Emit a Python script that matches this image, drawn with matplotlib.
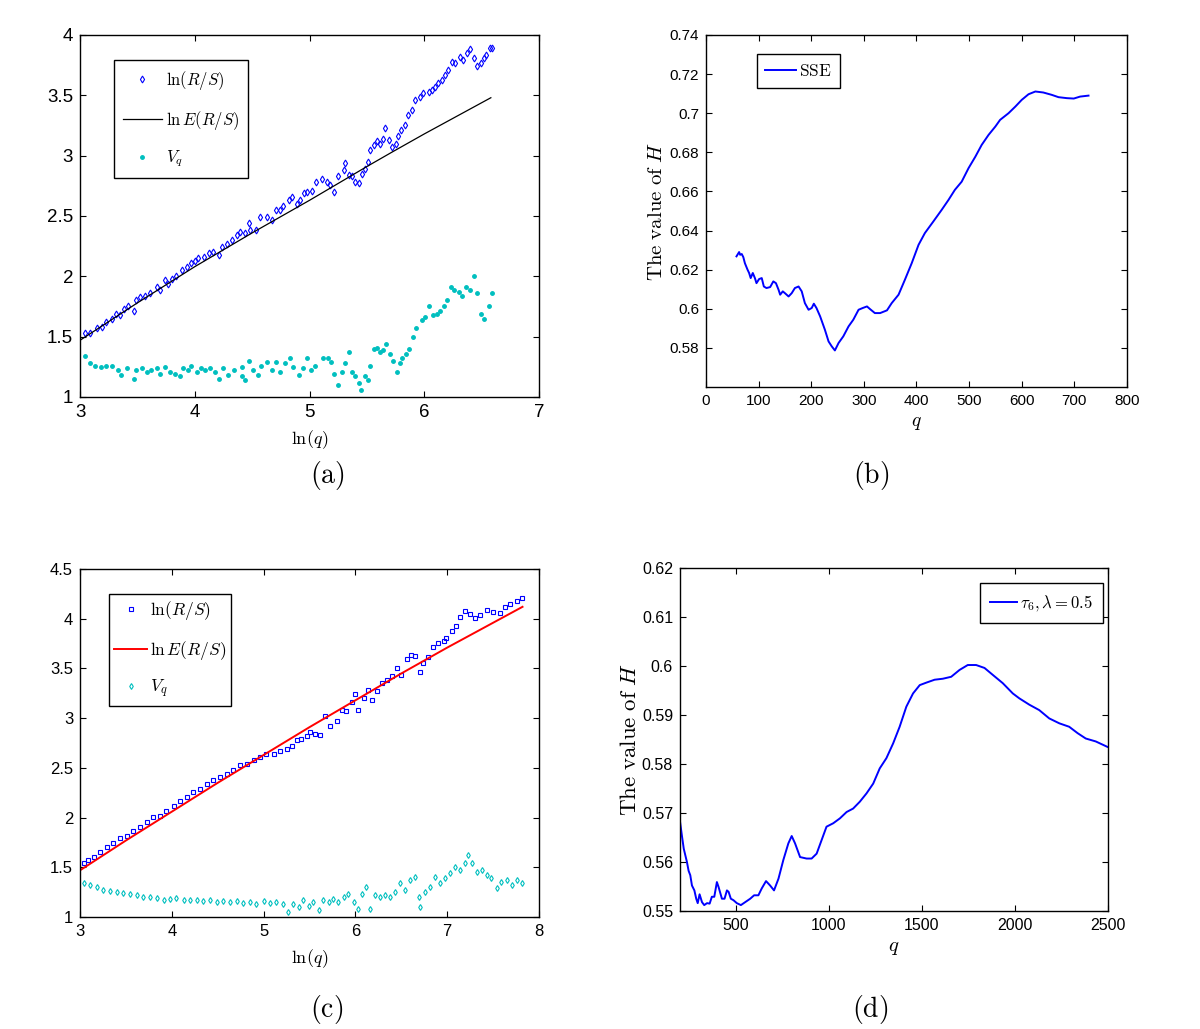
import matplotlib
matplotlib.use('Agg')
from matplotlib import pyplot as plt
from matplotlib.ticker import FuncFormatter

# ---------------- panel (a) ----------------
a_rs_x = [3.04, 3.09, 3.15, 3.19, 3.23, 3.28, 3.31, 3.35, 3.38, 3.42, 3.47, 3.49, 3.52, 3.57, 3.61,
          3.67, 3.70, 3.74, 3.77, 3.80, 3.84, 3.89, 3.93, 3.97, 4.00, 4.03, 4.08, 4.12, 4.16, 4.21,
          4.24, 4.28, 4.32, 4.37, 4.39, 4.44, 4.47, 4.48, 4.53, 4.57, 4.63, 4.67, 4.71, 4.74, 4.77,
          4.82, 4.85, 4.89, 4.92, 4.95, 4.98, 5.02, 5.06, 5.11, 5.15, 5.18, 5.21, 5.25, 5.30, 5.31,
          5.34, 5.37, 5.40, 5.43, 5.46, 5.48, 5.51, 5.53, 5.56, 5.59, 5.61, 5.64, 5.66, 5.69, 5.72,
          5.75, 5.77, 5.80, 5.83, 5.86, 5.89, 5.92, 5.96, 5.99, 6.04, 6.07, 6.09, 6.12, 6.15, 6.18,
          6.21, 6.24, 6.27, 6.31, 6.34, 6.37, 6.40, 6.43, 6.46, 6.49, 6.52, 6.54, 6.57, 6.59]
a_rs_y = [1.53, 1.53, 1.57, 1.58, 1.62, 1.65, 1.69, 1.68, 1.73, 1.75, 1.71, 1.80, 1.83, 1.84, 1.86,
          1.91, 1.89, 1.97, 1.94, 1.98, 2.00, 2.05, 2.08, 2.11, 2.13, 2.15, 2.16, 2.19, 2.20, 2.18,
          2.24, 2.27, 2.30, 2.34, 2.37, 2.36, 2.44, 2.38, 2.38, 2.49, 2.49, 2.47, 2.55, 2.55, 2.58,
          2.63, 2.66, 2.60, 2.63, 2.69, 2.70, 2.71, 2.78, 2.81, 2.78, 2.76, 2.70, 2.83, 2.88, 2.94,
          2.84, 2.83, 2.78, 2.77, 2.85, 2.89, 2.95, 3.05, 3.09, 3.12, 3.10, 3.14, 3.23, 3.13, 3.07,
          3.10, 3.16, 3.21, 3.25, 3.34, 3.38, 3.46, 3.49, 3.52, 3.53, 3.54, 3.57, 3.60, 3.63, 3.67,
          3.71, 3.78, 3.77, 3.82, 3.79, 3.85, 3.88, 3.81, 3.74, 3.77, 3.81, 3.83, 3.89, 3.89]
a_ers_x = [3.0, 3.5, 4.0, 4.5, 5.0, 5.5, 5.72, 6.0, 6.58]
a_ers_y = [1.47, 1.78, 2.08, 2.36, 2.63, 2.91, 3.03, 3.18, 3.48]
a_vq_x = [3.04, 3.09, 3.13, 3.18, 3.23, 3.28, 3.33, 3.36, 3.41, 3.47, 3.49, 3.54, 3.58, 3.62, 3.67,
          3.70, 3.74, 3.78, 3.83, 3.87, 3.90, 3.94, 3.97, 4.02, 4.05, 4.09, 4.13, 4.18, 4.21, 4.25,
          4.29, 4.34, 4.41, 4.41, 4.44, 4.47, 4.51, 4.55, 4.58, 4.63, 4.67, 4.71, 4.74, 4.79, 4.83,
          4.86, 4.91, 4.94, 4.98, 5.01, 5.05, 5.12, 5.16, 5.19, 5.21, 5.25, 5.28, 5.31, 5.34, 5.37,
          5.40, 5.43, 5.45, 5.48, 5.51, 5.53, 5.56, 5.59, 5.61, 5.64, 5.67, 5.70, 5.73, 5.76, 5.79,
          5.81, 5.84, 5.87, 5.90, 5.93, 5.98, 6.01, 6.04, 6.08, 6.11, 6.14, 6.17, 6.20, 6.23, 6.26,
          6.30, 6.33, 6.36, 6.40, 6.43, 6.46, 6.49, 6.52, 6.56, 6.59]
a_vq_y = [1.34, 1.28, 1.26, 1.25, 1.26, 1.26, 1.22, 1.18, 1.24, 1.15, 1.22, 1.24, 1.21, 1.22, 1.24,
          1.19, 1.25, 1.21, 1.19, 1.17, 1.24, 1.22, 1.26, 1.21, 1.24, 1.22, 1.24, 1.21, 1.15, 1.24,
          1.18, 1.22, 1.17, 1.25, 1.14, 1.30, 1.22, 1.18, 1.26, 1.29, 1.22, 1.29, 1.21, 1.28, 1.32,
          1.25, 1.18, 1.24, 1.32, 1.22, 1.26, 1.32, 1.32, 1.29, 1.19, 1.10, 1.21, 1.28, 1.37, 1.21,
          1.17, 1.12, 1.06, 1.17, 1.14, 1.26, 1.40, 1.41, 1.37, 1.39, 1.44, 1.36, 1.30, 1.21, 1.28,
          1.32, 1.36, 1.40, 1.50, 1.57, 1.64, 1.66, 1.75, 1.68, 1.69, 1.71, 1.75, 1.80, 1.91, 1.89,
          1.87, 1.84, 1.91, 1.89, 2.00, 1.86, 1.69, 1.65, 1.75, 1.86]

# ---------------- panel (b) ----------------
b_q = [58, 63, 65, 68, 71, 74, 79, 82, 85, 89, 93, 96, 101, 106, 110, 115, 122, 128, 133, 138,
       141, 146, 150, 157, 163, 169, 176, 182, 188, 195, 201, 205, 210, 217, 226, 233, 239, 245,
       252, 261, 271, 280, 290, 298, 306, 312, 321, 331, 344, 353, 366, 378, 391, 404, 416, 432,
       448, 461, 473, 486, 499, 512, 524, 537, 550, 559, 575, 588, 600, 613, 626, 641, 657, 670,
       686, 699, 711, 727]
b_h = [0.6268, 0.6290, 0.6276, 0.6280, 0.6264, 0.6233, 0.6200, 0.6183, 0.6157, 0.6183, 0.6157,
       0.6131, 0.6152, 0.6157, 0.6114, 0.6106, 0.6111, 0.6140, 0.6131, 0.6097, 0.6072, 0.6089,
       0.6080, 0.6063, 0.6080, 0.6106, 0.6114, 0.6089, 0.6029, 0.5995, 0.6004, 0.6026, 0.6004,
       0.5961, 0.5893, 0.5833, 0.5808, 0.5787, 0.5825, 0.5859, 0.5910, 0.5944, 0.5995, 0.6004,
       0.6012, 0.5998, 0.5978, 0.5978, 0.5992, 0.6029, 0.6072, 0.6148, 0.6233, 0.6327, 0.6387,
       0.6446, 0.6506, 0.6557, 0.6608, 0.6650, 0.6719, 0.6778, 0.6838, 0.6889, 0.6932, 0.6966,
       0.7000, 0.7034, 0.7068, 0.7097, 0.7111, 0.7106, 0.7094, 0.7082, 0.7077, 0.7075, 0.7085,
       0.7090]

# ---------------- panel (c) ----------------
c_rs_x = [3.04, 3.09, 3.15, 3.22, 3.29, 3.36, 3.44, 3.51, 3.58, 3.65, 3.73, 3.80, 3.87, 3.94, 4.02,
          4.09, 4.16, 4.23, 4.31, 4.38, 4.45, 4.53, 4.60, 4.67, 4.74, 4.82, 4.89, 4.96, 5.03, 5.11,
          5.18, 5.25, 5.31, 5.36, 5.41, 5.47, 5.51, 5.56, 5.61, 5.67, 5.72, 5.80, 5.85, 5.90, 5.96,
          5.99, 6.03, 6.09, 6.14, 6.18, 6.23, 6.29, 6.34, 6.40, 6.45, 6.50, 6.56, 6.61, 6.65, 6.70,
          6.74, 6.79, 6.85, 6.90, 6.96, 6.99, 7.05, 7.10, 7.14, 7.19, 7.25, 7.30, 7.36, 7.43, 7.50,
          7.57, 7.63, 7.68, 7.76, 7.81]
c_rs_y = [1.54, 1.57, 1.60, 1.65, 1.70, 1.74, 1.79, 1.82, 1.87, 1.91, 1.96, 2.01, 2.02, 2.07, 2.12,
          2.17, 2.21, 2.26, 2.29, 2.34, 2.38, 2.41, 2.44, 2.48, 2.53, 2.54, 2.58, 2.61, 2.64, 2.64,
          2.67, 2.69, 2.72, 2.78, 2.79, 2.82, 2.86, 2.84, 2.83, 3.02, 2.92, 2.97, 3.08, 3.07, 3.16,
          3.24, 3.08, 3.20, 3.28, 3.18, 3.27, 3.35, 3.38, 3.42, 3.50, 3.43, 3.60, 3.64, 3.63, 3.46,
          3.56, 3.62, 3.72, 3.76, 3.78, 3.81, 3.88, 3.93, 4.02, 4.08, 4.05, 4.01, 4.04, 4.09, 4.07,
          4.06, 4.12, 4.15, 4.18, 4.21]
c_ers_x = [3.0, 3.5, 4.0, 4.5, 5.0, 5.5, 6.0, 6.5, 7.0, 7.5, 7.82]
c_ers_y = [1.47, 1.77, 2.06, 2.35, 2.63, 2.91, 3.18, 3.45, 3.71, 3.96, 4.12]
c_vq_x = [3.04, 3.11, 3.18, 3.25, 3.33, 3.40, 3.47, 3.54, 3.62, 3.69, 3.76, 3.84, 3.91, 3.98, 4.05,
          4.13, 4.20, 4.27, 4.34, 4.42, 4.49, 4.56, 4.63, 4.71, 4.78, 4.85, 4.92, 5.00, 5.07, 5.14,
          5.21, 5.27, 5.32, 5.38, 5.43, 5.49, 5.54, 5.60, 5.65, 5.71, 5.76, 5.81, 5.87, 5.92, 5.98,
          6.03, 6.07, 6.12, 6.16, 6.21, 6.27, 6.32, 6.38, 6.43, 6.49, 6.54, 6.59, 6.65, 6.69, 6.70,
          6.76, 6.81, 6.87, 6.92, 6.98, 7.03, 7.08, 7.14, 7.19, 7.23, 7.27, 7.32, 7.38, 7.43, 7.48,
          7.54, 7.59, 7.65, 7.70, 7.76, 7.81]
c_vq_y = [1.34, 1.32, 1.30, 1.27, 1.26, 1.25, 1.24, 1.23, 1.22, 1.20, 1.20, 1.19, 1.17, 1.18, 1.19,
          1.17, 1.17, 1.17, 1.16, 1.17, 1.15, 1.16, 1.15, 1.16, 1.14, 1.15, 1.13, 1.16, 1.14, 1.15,
          1.13, 1.05, 1.13, 1.10, 1.17, 1.11, 1.15, 1.07, 1.17, 1.15, 1.18, 1.15, 1.20, 1.23, 1.15,
          1.08, 1.23, 1.30, 1.08, 1.22, 1.20, 1.22, 1.20, 1.25, 1.34, 1.27, 1.37, 1.40, 1.20, 1.10,
          1.25, 1.30, 1.40, 1.34, 1.39, 1.44, 1.50, 1.47, 1.54, 1.62, 1.54, 1.45, 1.47, 1.42, 1.39,
          1.29, 1.35, 1.37, 1.32, 1.37, 1.34]

# ---------------- panel (d) ----------------
d_q = [200, 211, 220, 237, 246, 255, 264, 277, 287, 295, 305, 318, 330, 345, 359, 371, 384, 398,
       407, 425, 439, 452, 461, 473, 487, 505, 527, 550, 577, 598, 621, 639, 662, 684, 705, 729,
       755, 782, 800, 818, 845, 880, 907, 934, 961, 987, 1023, 1059, 1095, 1130, 1166, 1202, 1238,
       1273, 1309, 1345, 1380, 1416, 1452, 1488, 1523, 1568, 1612, 1657, 1702, 1746, 1791, 1836,
       1880, 1934, 1988, 2023, 2077, 2130, 2184, 2238, 2291, 2336, 2380, 2434, 2496]
d_h = [0.5682, 0.5651, 0.5627, 0.5600, 0.5582, 0.5573, 0.5552, 0.5542, 0.5525, 0.5516, 0.5534,
       0.5518, 0.5512, 0.5516, 0.5515, 0.5529, 0.5529, 0.5559, 0.5549, 0.5525, 0.5525, 0.5542,
       0.5539, 0.5525, 0.5522, 0.5516, 0.5512, 0.5518, 0.5525, 0.5532, 0.5532, 0.5546, 0.5561,
       0.5552, 0.5542, 0.5566, 0.5604, 0.5638, 0.5653, 0.5638, 0.5610, 0.5607, 0.5607, 0.5617,
       0.5645, 0.5672, 0.5679, 0.5689, 0.5702, 0.5709, 0.5723, 0.5740, 0.5760, 0.5791, 0.5812,
       0.5842, 0.5876, 0.5917, 0.5944, 0.5961, 0.5966, 0.5972, 0.5974, 0.5978, 0.5992, 0.6002,
       0.6002, 0.5996, 0.5982, 0.5965, 0.5944, 0.5934, 0.5921, 0.5910, 0.5893, 0.5883, 0.5876,
       0.5863, 0.5852, 0.5846, 0.5835]

BLUE = '#0000ff'
CYAN = '#00bfbf'
TICK_FONT = ['Liberation Sans', 'DejaVu Sans']

plt.rcParams['mathtext.fontset'] = 'cm'
plt.rcParams['axes.linewidth'] = 1.0


def style_axes(ax, tick_size):
    # matlab look: inward ticks on all four sides, plain number labels
    ax.tick_params(direction='in', top=True, right=True, length=4, width=0.8,
                   labelsize=tick_size, pad=5)
    fmt = FuncFormatter(lambda v, p: '%g' % round(v, 4))
    ax.xaxis.set_major_formatter(fmt)
    ax.yaxis.set_major_formatter(fmt)
    for lab in ax.get_xticklabels() + ax.get_yticklabels():
        lab.set_family(TICK_FONT)


def boxed_legend(ax, **kw):
    leg = ax.legend(frameon=True, fancybox=False, edgecolor='black', framealpha=1, **kw)
    leg.get_frame().set_linewidth(1.0)
    return leg


fig = plt.figure(figsize=(12, 10.29), dpi=100)

# (a)
ax = fig.add_axes([0.0667, 0.6142, 0.3825, 0.3518])
ax.plot(a_rs_x, a_rs_y, linestyle='none', marker='d', ms=3.5, mfc='none', mec=BLUE, mew=0.8,
        label=r'$\ln(R/S)$')
ax.plot(a_ers_x, a_ers_y, color='black', lw=0.9, label=r'$\ln E(R/S)$')
ax.plot(a_vq_x, a_vq_y, linestyle='none', marker='.', ms=5, color=CYAN, label=r'$V_q$')
ax.set_xlim(3, 7)
ax.set_ylim(1, 4)
ax.set_xticks([3, 4, 5, 6, 7])
ax.set_yticks([1, 1.5, 2, 2.5, 3, 3.5, 4])
style_axes(ax, 13.5)
ax.set_xlabel(r'$\ln(q)$', fontsize=13)
ax.xaxis.set_label_coords(0.5, -0.086)
boxed_legend(ax, loc='upper left', bbox_to_anchor=(0.074, 0.931), fontsize=12,
             handlelength=2.3, handletextpad=0.25, labelspacing=1.0, borderpad=0.55,
             borderaxespad=0, markerscale=1.0)

# (b)
ax = fig.add_axes([0.5883, 0.6239, 0.3508, 0.3421])
ax.plot(b_q, b_h, color=BLUE, lw=1.4, label=r'$\mathrm{SSE}$')
ax.set_xlim(0, 800)
ax.set_ylim(0.56, 0.74)
ax.set_xticks(range(0, 801, 100))
ax.set_yticks([0.58, 0.60, 0.62, 0.64, 0.66, 0.68, 0.70, 0.72, 0.74])
style_axes(ax, 11)
ax.set_xlabel(r'$q$', fontsize=14)
ax.xaxis.set_label_coords(0.5, -0.074)
ax.set_ylabel(r'$\mathrm{The\ value\ of\ }H$', fontsize=15)
ax.yaxis.set_label_coords(-0.095, 0.5)
boxed_legend(ax, loc='upper left', bbox_to_anchor=(0.121, 0.946), fontsize=12.5,
             handlelength=1.8, handletextpad=0.2, borderpad=0.45, borderaxespad=0)

# (c)
ax = fig.add_axes([0.0667, 0.1088, 0.3825, 0.3382])
ax.plot(c_rs_x, c_rs_y, linestyle='none', marker='s', ms=3, mfc='none', mec=BLUE, mew=0.8,
        label=r'$\ln(R/S)$')
ax.plot(c_ers_x, c_ers_y, color='red', lw=1.4, label=r'$\ln E(R/S)$')
ax.plot(c_vq_x, c_vq_y, linestyle='none', marker='d', ms=3, mfc='none', mec=CYAN, mew=0.8,
        label=r'$V_q$')
ax.set_xlim(3, 8)
ax.set_ylim(1, 4.5)
ax.set_xticks([3, 4, 5, 6, 7, 8])
ax.set_yticks([1, 1.5, 2, 2.5, 3, 3.5, 4, 4.5])
style_axes(ax, 12)
ax.set_xlabel(r'$\ln(q)$', fontsize=13)
ax.xaxis.set_label_coords(0.5, -0.086)
boxed_legend(ax, loc='upper left', bbox_to_anchor=(0.063, 0.928), fontsize=12.5,
             handlelength=1.9, handletextpad=0.15, labelspacing=0.95, borderpad=0.3,
             borderaxespad=0)

# (d)
ax = fig.add_axes([0.5667, 0.1147, 0.3567, 0.3333])
ax.plot(d_q, d_h, color=BLUE, lw=1.4, label=r'$\tau_6, \lambda=0.5$')
ax.set_xlim(200, 2500)
ax.set_ylim(0.55, 0.62)
ax.set_xticks([500, 1000, 1500, 2000, 2500])
ax.set_yticks([0.55, 0.56, 0.57, 0.58, 0.59, 0.60, 0.61, 0.62])
style_axes(ax, 11.5)
ax.set_xlabel(r'$q$', fontsize=15)
ax.xaxis.set_label_coords(0.5, -0.076)
ax.set_ylabel(r'$\mathrm{The\ value\ of\ }H$', fontsize=16.5)
ax.yaxis.set_label_coords(-0.092, 0.5)
boxed_legend(ax, loc='upper right', bbox_to_anchor=(0.988, 0.956), fontsize=12,
             handlelength=1.6, handletextpad=0.2, borderpad=0.6, borderaxespad=0)

# sub-figure captions
for lab, x, y in [('(a)', 327, 475), ('(b)', 871, 475), ('(c)', 327, 1010), ('(d)', 870, 1010)]:
    fig.text(x / 1200, 1 - y / 1029, r'$\mathrm{%s}$' % lab, fontsize=20, ha='center', va='center')

fig.savefig('out.png', dpi=100, facecolor='white')
